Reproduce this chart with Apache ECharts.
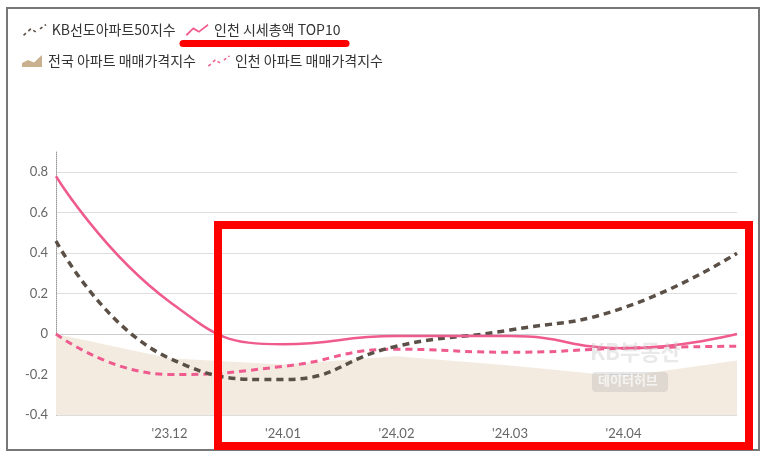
<!DOCTYPE html>
<html>
<head>
<meta charset="utf-8">
<script src="https://cdn.jsdelivr.net/npm/echarts@6/dist/echarts.min.js"></script>
<style>
html,body{margin:0;padding:0;background:#fff;}
#c{width:768px;height:457px;}
</style>
</head>
<body>
<div id="c"></div>
<script>
const categories = ["'23.11", "'23.12", "'24.01", "'24.02", "'24.03", "'24.04", "'24.05"];
const kbLeading50 = [0.46, -0.12, -0.225, -0.06, 0.02, 0.13, 0.40];
const incheonTop10 = [0.78, 0.16, -0.05, -0.01, -0.01, -0.07, 0.00];
const nationalApt = [0.00, -0.12, -0.15, -0.11, -0.155, -0.21, -0.13];
const incheonApt = [0.00, -0.2, -0.16, -0.075, -0.09, -0.07, -0.06];
const yTicks = { min: -0.4, max: 0.9, interval: 0.2 };

const PINK = '#ef5b8e';
const DARK = '#5b5047';
const TAN = '#f3ebdf';

const zigSolid = 'path://M0,11 L8,3.5 L14,7 L23,0 L24,1.6 L14,9.2 L8,5.8 L1.4,12.6 Z';
const zigDot = 'path://M0,10.5 L2.5,8.3 L3.6,9.6 L1.1,11.8 Z M5,6 L7.6,3.6 L8.6,5 L6.1,7.3 Z M11,5.3 L13.6,6.9 L12.8,8.3 L10.2,6.7 Z M17,3.9 L19.6,1.9 L20.6,3.2 L18,5.2 Z M22,0.3 L23.4,-0.6 L24.2,0.7 L22.8,1.6 Z';
const mountain = 'path://M0,12 L0,8 L6,5 L12,7.5 L20,0 L20,12 Z';

const legendText = { fontSize: 14, color: '#333', fontFamily: '"Noto Sans CJK KR", sans-serif' };

const chart = echarts.init(document.getElementById('c'));
chart.setOption({
  animation: false,
  textStyle: { fontFamily: 'Lato, "Noto Sans CJK KR", sans-serif' },
  legend: [
    {
      left: 18, top: 18, itemWidth: 24, itemHeight: 12, itemGap: 10,
      textStyle: legendText,
      data: [
        { name: 'KB선도아파트50지수', icon: zigDot, itemStyle: { color: DARK } },
        { name: '인천 시세총액 TOP10', icon: zigSolid, itemStyle: { color: PINK } }
      ]
    },
    {
      left: 17, top: 49, itemWidth: 22, itemHeight: 12, itemGap: 12,
      textStyle: legendText,
      data: [
        { name: '전국 아파트 매매가격지수', icon: mountain, itemStyle: { color: '#c9b18f' } },
        { name: '인천 아파트 매매가격지수', icon: zigDot, itemStyle: { color: PINK } }
      ]
    }
  ],
  grid: { left: 56, right: 31, top: 152, bottom: 42, containLabel: false },
  xAxis: {
    type: 'category',
    data: categories,
    boundaryGap: false,
    axisLine: { lineStyle: { color: '#ccc' } },
    axisTick: { show: false },
    axisLabel: {
      color: '#666', fontSize: 13, margin: 12,
      formatter: function (v, i) { return (i === 0 || i === categories.length - 1) ? '' : v; }
    },
    splitLine: { show: false }
  },
  yAxis: {
    type: 'value',
    min: yTicks.min, max: yTicks.max, interval: yTicks.interval,
    axisLine: { show: true, lineStyle: { color: '#999', type: 'dotted', width: 1 } },
    axisTick: { show: false },
    axisLabel: {
      color: '#666', fontSize: 13, margin: 8, showMaxLabel: false,
      formatter: function (v) { return Math.abs(v) < 1e-9 ? '0' : (Math.round(v * 10) / 10).toString(); }
    },
    splitLine: { show: true, showMaxLine: false, lineStyle: { color: '#ddd' } }
  },
  series: [
    {
      name: '전국 아파트 매매가격지수', type: 'line', data: nationalApt,
      symbol: 'none', smooth: false,
      lineStyle: { width: 0 }, itemStyle: { color: '#c9b18f' },
      areaStyle: { color: TAN, opacity: 1, origin: 'start' }, z: 1
    },
    {
      name: '인천 아파트 매매가격지수', type: 'line', data: incheonApt,
      symbol: 'none', smooth: true,
      lineStyle: { color: PINK, width: 3, type: [7, 5] }, itemStyle: { color: PINK }, z: 2
    },
    {
      name: 'KB선도아파트50지수', type: 'line', data: kbLeading50,
      symbol: 'none', smooth: true,
      lineStyle: { color: DARK, width: 3.5, type: [7, 5] }, itemStyle: { color: DARK }, z: 3
    },
    {
      name: '인천 시세총액 TOP10', type: 'line', data: incheonTop10,
      symbol: 'none', smooth: true,
      lineStyle: { color: PINK, width: 2.5 }, itemStyle: { color: PINK }, z: 4
    }
  ],
  graphic: [
    { type: 'rect', shape: { x: 7, y: 8, width: 752, height: 442 }, style: { fill: 'none', stroke: '#777', lineWidth: 2 }, z: 100 },
    { type: 'text', left: 590, top: 341, style: { text: 'KB부동산', fontSize: 22, fontWeight: 'bold', fill: 'rgba(200,200,200,0.4)', fontFamily: '"Noto Sans CJK KR", sans-serif' }, z: 50 },
    { type: 'rect', shape: { x: 592, y: 372, width: 76, height: 20, r: 4 }, style: { fill: 'rgba(170,170,170,0.28)' }, z: 50 },
    { type: 'text', left: 598, top: 374, style: { text: '데이터허브', fontSize: 13, fontWeight: 'bold', fill: 'rgba(255,255,255,0.7)', fontFamily: '"Noto Sans CJK KR", sans-serif' }, z: 51 },
    { type: 'rect', shape: { x: 218, y: 225, width: 531, height: 221 }, style: { fill: 'none', stroke: '#ff0000', lineWidth: 8 }, z: 110 },
    { type: 'line', shape: { x1: 183, y1: 43.5, x2: 346, y2: 43.5 }, style: { stroke: '#ff0000', lineWidth: 7, lineCap: 'round' }, z: 110 }
  ]
});
</script>
</body>
</html>
